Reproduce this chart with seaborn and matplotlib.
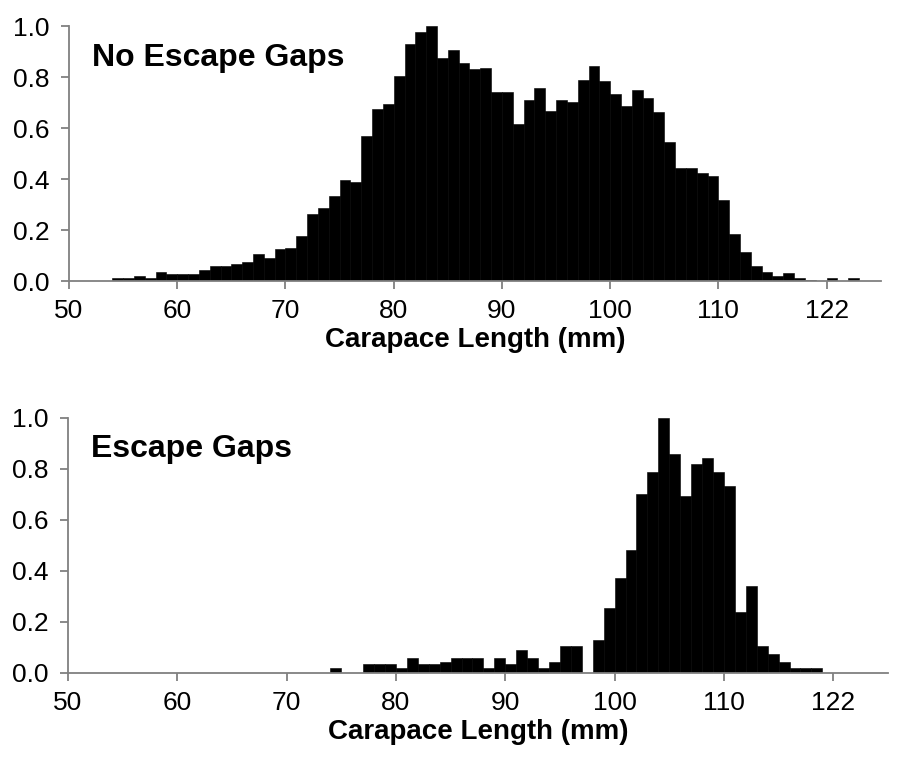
import numpy as np
import pandas as pd
import matplotlib
matplotlib.use("Agg")
import matplotlib.pyplot as plt
import seaborn as sns

# carapace length classes (mm), one bar per mm
lengths = list(range(50, 125))

# relative frequency, traps without escape gaps
no_gaps = [0, 0, 0, 0, 0.010, 0.010, 0.020, 0.013, 0.035, 0.028,
           0.028, 0.028, 0.044, 0.059, 0.059, 0.068, 0.076, 0.106, 0.092, 0.124,
           0.129, 0.176, 0.263, 0.285, 0.333, 0.396, 0.390, 0.570, 0.673, 0.696,
           0.805, 0.930, 0.978, 1.000, 0.876, 0.907, 0.854, 0.830, 0.836, 0.743,
           0.742, 0.617, 0.711, 0.758, 0.665, 0.711, 0.704, 0.788, 0.845, 0.783,
           0.735, 0.688, 0.750, 0.719, 0.664, 0.546, 0.444, 0.444, 0.422, 0.413,
           0.318, 0.186, 0.113, 0.060, 0.035, 0.020, 0.030, 0.010, 0.005, 0,
           0.010, 0, 0.010, 0, 0]

# relative frequency, traps with escape gaps
with_gaps = [0, 0, 0, 0, 0, 0, 0, 0, 0, 0,
             0, 0, 0, 0, 0, 0, 0, 0, 0, 0,
             0, 0, 0, 0, 0.017, 0, 0, 0.033, 0.033, 0.033,
             0.020, 0.056, 0.033, 0.033, 0.041, 0.056, 0.056, 0.056, 0.020, 0.058,
             0.034, 0.089, 0.058, 0.019, 0.042, 0.105, 0.105, 0, 0.128, 0.252,
             0.371, 0.481, 0.701, 0.786, 1.000, 0.858, 0.693, 0.817, 0.842, 0.786,
             0.732, 0.239, 0.340, 0.105, 0.073, 0.042, 0.017, 0.017, 0.017, 0,
             0, 0, 0, 0, 0]

tick_pos = [50, 60, 70, 80, 90, 100, 110, 120]
tick_labels = ["50", "60", "70", "80", "90", "100", "110", "122"]
titles = ["No Escape Gaps", "Escape Gaps"]

df = pd.DataFrame({"length": lengths, "No Escape Gaps": no_gaps, "Escape Gaps": with_gaps})

sns.set_style("ticks")
plt.rcParams["font.family"] = ["Liberation Sans", "DejaVu Sans"]
plt.rcParams["text.color"] = "black"
plt.rcParams["xtick.labelcolor"] = "black"
plt.rcParams["ytick.labelcolor"] = "black"
plt.rcParams["axes.labelcolor"] = "black"

fig = plt.figure(figsize=(9.09, 7.61), dpi=100)
ax_top = fig.add_axes([0.0759, 0.6307, 0.893, 0.3351])
ax_bot = fig.add_axes([0.0748, 0.1160, 0.902, 0.3351])

axis_col = "#808080"
for ax, name in zip([ax_top, ax_bot], titles):
    sns.histplot(data=df, x="length", weights=name, binwidth=1, binrange=(50, 125),
                 color="black", edgecolor="black", linewidth=0.4, alpha=1, ax=ax)
    ax.set_xlim(50, 125)
    ax.set_ylim(0, 1.0)
    ax.set_yticks([0, 0.2, 0.4, 0.6, 0.8, 1.0])
    ax.set_yticklabels(["0.0", "0.2", "0.4", "0.6", "0.8", "1.0"])
    ax.set_xticks(tick_pos)
    ax.set_xticklabels(tick_labels)
    ax.tick_params(axis="both", labelsize=19, color=axis_col, length=6, width=1.3,
                   labelcolor="black")
    ax.tick_params(axis="x", pad=7)
    ax.tick_params(axis="y", pad=8)
    ax.set_ylabel("")
    ax.set_xlabel("Carapace Length (mm)", fontsize=20, fontweight="bold", labelpad=3,
                  color="black")
    sns.despine(ax=ax)
    for s in ["left", "bottom"]:
        ax.spines[s].set_color(axis_col)
        ax.spines[s].set_linewidth(1.3)
    ax.text(52.1, 0.845, name, fontsize=23, fontweight="bold", va="baseline", color="black")

fig.savefig("out.png", dpi=100)
